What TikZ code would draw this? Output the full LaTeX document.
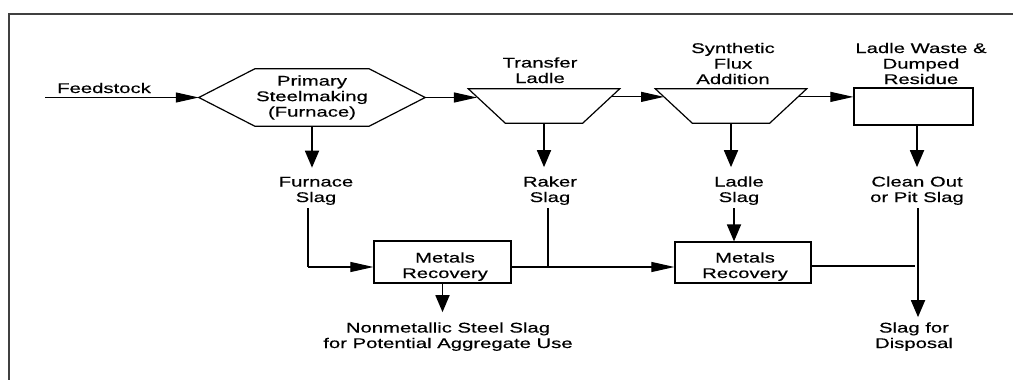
\documentclass[tikz,border=0pt]{standalone}
\usepackage{fontspec}
\setmainfont{Liberation Sans}[FakeStretch=1.45,FakeBold=0.4]
\usetikzlibrary{arrows.meta,calc}
\newcommand\fsz{\fontsize{14}{15.5}\selectfont}
\begin{document}
\begin{tikzpicture}[x=1pt,y=-1pt,
  txt/.style={font=\fsz,align=center,inner sep=0pt},
  shp/.style={draw,line width=1.2pt,inner sep=0pt},
  hl/.style={line width=1.1pt},
  vl/.style={line width=1.8pt},
  harr/.style={hl,-{Triangle[length=23pt,width=10pt]}},
  varr/.style={vl,-{Triangle[length=17pt,width=14pt]}},
  ladle/.style={inner sep=0pt,minimum width=151pt,minimum height=34pt},
]
\useasboundingbox (0,0) rectangle (1013,380);
\draw[line width=2pt,black!75] (1013,13.5) -- (9,13.5) -- (9,380);

% process shapes
\node[txt,minimum width=226pt,minimum height=57pt] (hex) at (312,97.5) {Primary\\Steelmaking\\(Furnace)};
\draw[shp] (hex.west) -- ([xshift=56pt]hex.north west) -- ([xshift=-56pt]hex.north east)
  -- (hex.east) -- ([xshift=-56pt]hex.south east) -- ([xshift=56pt]hex.south west) -- cycle;
\node[ladle] (trap1) at (544,106) {};
\draw[shp] (trap1.north west) -- (trap1.north east) -- ([xshift=-37pt]trap1.south east)
  -- ([xshift=37pt]trap1.south west) -- cycle;
\node[ladle] (trap2) at (731,106) {};
\draw[shp] (trap2.north west) -- (trap2.north east) -- ([xshift=-37pt]trap2.south east)
  -- ([xshift=37pt]trap2.south west) -- cycle;
\node[shp,minimum width=119pt,minimum height=37pt] (rect) at (913.5,106.5) {};
\node[shp,minimum width=137pt,minimum height=42pt] (mr1) at (442.5,262) {};
\node[shp,minimum width=136pt,minimum height=41pt] (mr2) at (743,262.5) {};

% edge points of the ladles on the main line
\coordinate (t1in) at ($(trap1.north west)!0.235!([xshift=37pt]trap1.south west)$);
\coordinate (t1out) at ($(trap1.north east)!0.235!([xshift=-37pt]trap1.south east)$);
\coordinate (t2in) at ($(trap2.north west)!0.235!([xshift=37pt]trap2.south west)$);
\coordinate (t2out) at ($(trap2.north east)!0.235!([xshift=-37pt]trap2.south east)$);

% labels (base anchor = baseline of the last line)
\node[txt,anchor=base] (feedlbl) at (104,93) {Feedstock};
\node[txt,anchor=base] (tl) at (540,83) {Transfer\\Ladle};
\node[txt,anchor=base] (sfa) at (733,84) {Synthetic\\Flux\\Addition};
\node[txt,anchor=base] (lw) at (921,84) {Ladle Waste \&\\Dumped\\Residue};
\node[txt,anchor=base] (fslag) at (316,202) {Furnace\\Slag};
\node[txt,anchor=base] (rslag) at (550,202) {Raker\\Slag};
\node[txt,anchor=base] (lslag) at (739,202) {Ladle\\Slag};
\node[txt,anchor=base] (cslag) at (917,202) {Clean Out\\or Pit Slag};
\node[txt,anchor=base] (mr1t) at (445,278) {Metals\\Recovery};
\node[txt,anchor=base] (mr2t) at (745,278) {Metals\\Recovery};
\node[txt,anchor=base] (nonmet) at (448,348) {Nonmetallic Steel Slag\\for Potential Aggregate Use};
\node[txt,anchor=base] (disp) at (914,348) {Slag for\\Disposal};

% junction coordinates
\coordinate (fs) at (45,97.5);
\coordinate (c1) at (308,267);
\coordinate (c2) at (548,267);
\coordinate (c3) at (734,242);
\coordinate (c4) at (918,266);

% main line
\draw[harr] (fs) -- (hex.west);
\draw[harr] (hex.east) -- (hex.east -| t1in);
\draw[harr] (t1out) -- (t2in);
\draw[harr] (t2out) -- (rect.west |- t2out);

% slag arrows
\draw[varr,shorten >=9pt] (hex.south) -- (hex.south |- fslag.north);
\draw[varr,shorten >=9pt] (trap1.south) -- (trap1.south |- rslag.north);
\draw[varr,shorten >=9pt] (trap2.south) -- (trap2.south |- lslag.north);
\draw[varr,shorten >=9pt] (cslag.north |- rect.south) -- (cslag.north);

% lower flows
\draw[vl] ([yshift=-3pt]c1 |- fslag.south) -- (c1);
\draw[harr] (c1) -- (mr1.west |- c1);
\draw[vl] ([yshift=-3pt]c2 |- rslag.south) -- (c2);
\draw[harr] (mr1.east |- c2) -- (mr2.west |- c2);
\draw[varr] ([yshift=-3pt]c3 |- lslag.south) -- (c3 |- mr2.north);
\draw[hl] (mr2.east |- c4) -- ([xshift=-3pt]c4);
\draw[varr,shorten >=5pt] ([yshift=-3pt]c4 |- cslag.south) -- (c4 |- disp.north);
\draw[varr,shorten >=10pt] (mr1.south) -- (mr1.south |- nonmet.north);
\end{tikzpicture}
\end{document}
